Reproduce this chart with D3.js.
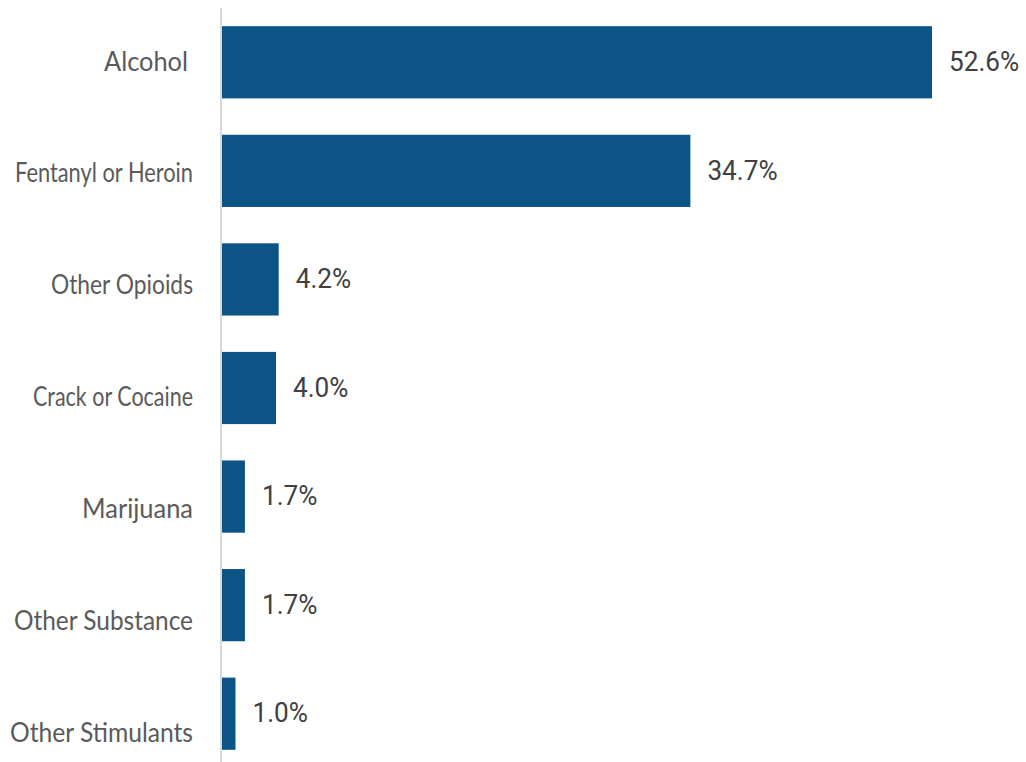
<!DOCTYPE html>
<html><head><meta charset="utf-8">
<script src="https://cdn.jsdelivr.net/npm/d3@7"></script>
<style>body{margin:0;background:#fff}svg{display:block}</style>
</head><body>
<svg id="c" width="1026" height="762"></svg>
<script>
const categories = ["Alcohol","Fentanyl or Heroin","Other Opioids","Crack or Cocaine","Marijuana","Other Substance","Other Stimulants"];
const values = [52.6,34.7,4.2,4.0,1.7,1.7,1.0];
// rendered label widths (style), as in the reference's per-label fitting
const labelWidths = [84,178,142,160,111,179,183];

const svg = d3.select("#c");
const x = d3.scaleLinear().domain([0, 52.6]).range([222, 932]);
const y = d3.scaleBand().domain(categories).range([8, 768]).paddingInner(0.335).paddingOuter(0.1675);
const yLab = d3.scalePoint().domain(categories).range([60, 731]);

svg.append("line").attr("x1",221).attr("x2",221).attr("y1",8).attr("y2",762)
  .attr("stroke","#d9d9d9").attr("stroke-width",2);

svg.selectAll("rect.bar").data(categories).join("rect").attr("class","bar")
  .attr("x", x(0)).attr("y", d=>y(d)).attr("width", (d,i)=>x(values[i])-x(0))
  .attr("height", y.bandwidth()).attr("fill","#0b5485");

svg.selectAll("text.cat").data(categories).join("text").attr("class","cat")
  .attr("x", (d,i)=>i===0?188:193).attr("y", d=>yLab(d))
  .attr("text-anchor","end").attr("dominant-baseline","central")
  .attr("textLength",(d,i)=>labelWidths[i]).attr("lengthAdjust","spacingAndGlyphs")
  .attr("font-family","Lato").attr("font-size",27).attr("fill","#5a5a5a").text(d=>d);

svg.selectAll("text.val").data(categories).join("text").attr("class","val")
  .attr("transform", (d,i)=>`translate(${x(values[i])+17},${y(d)+y.bandwidth()/2 - 1}) scale(0.97,1)`)
  .attr("dominant-baseline","central")
  .attr("font-family","Roboto").attr("font-size",27).attr("fill","#404040")
  .text((d,i)=>values[i].toFixed(1)+"%");
</script>
</body></html>
